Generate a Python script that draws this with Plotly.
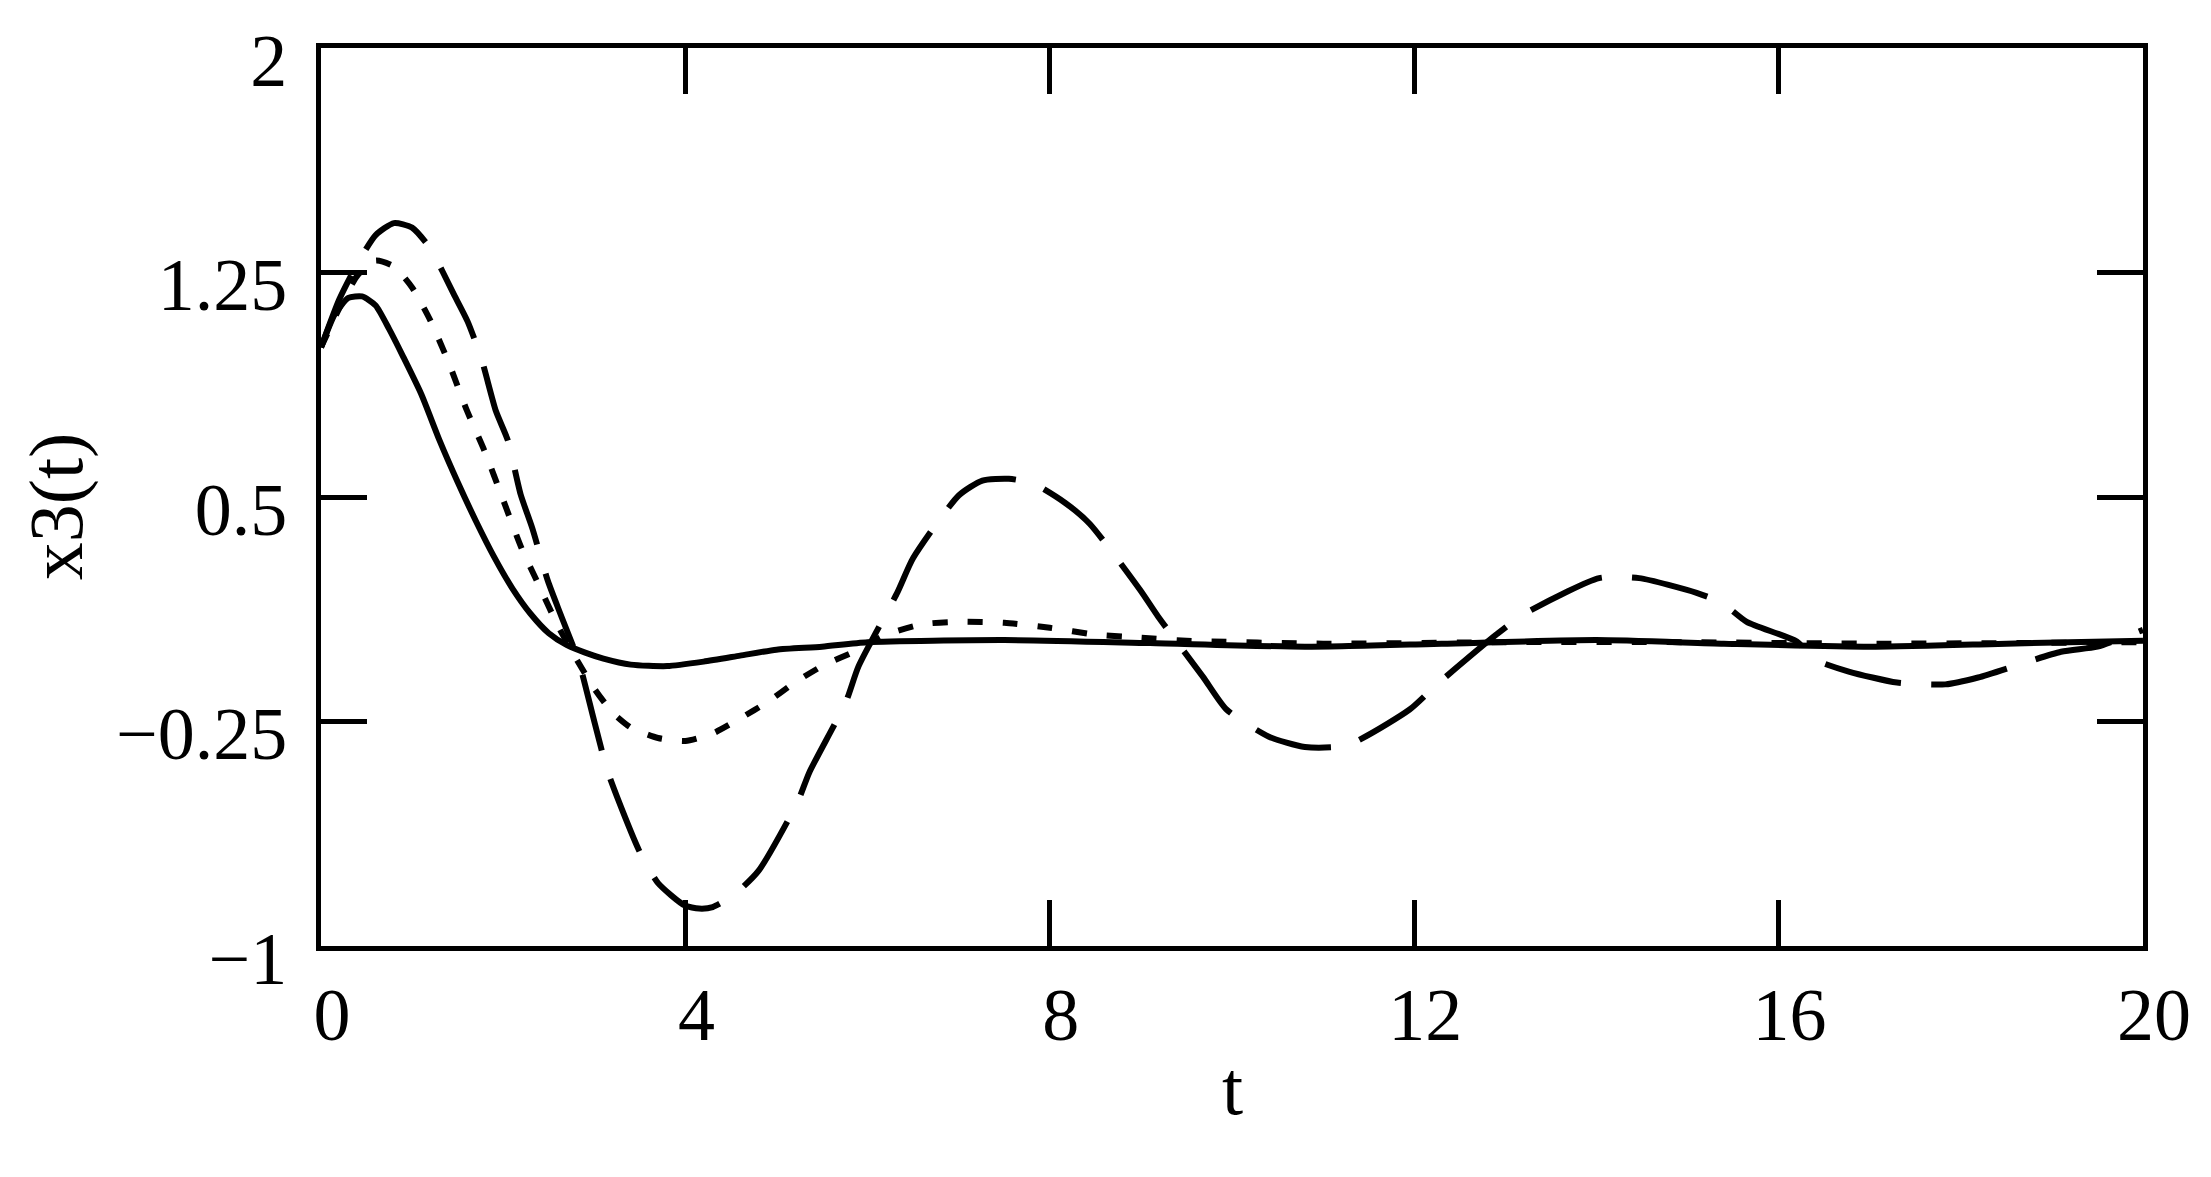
import plotly.graph_objects as go

# ---- data ----
t_solid = [0, 0.15, 0.3, 0.45, 0.6, 0.75, 0.9, 1.1, 1.3, 1.5, 1.7, 1.9, 2.1, 2.3, 2.5,
           2.7, 2.9, 3.1, 3.4, 3.8, 4.2, 4.6, 5.0, 5.5, 6.0, 7.5, 9.1, 10.8, 12.3, 14,
           15.4, 17, 18.5, 20]
x3_solid = [1.0, 1.11, 1.165, 1.17, 1.14, 1.06, 0.97, 0.844, 0.69, 0.55, 0.42, 0.30, 0.195,
            0.11, 0.045, 0.005, -0.02, -0.04, -0.06, -0.065, -0.05, -0.03, -0.01, 0.0, 0.015,
            0.022, 0.012, 0.0, 0.01, 0.022, 0.01, 0.0, 0.01, 0.02]

t_dotted = [0, 0.2, 0.4, 0.6, 0.8, 1.0, 1.2, 1.4, 1.6, 1.8, 2.0, 2.2, 2.4, 2.6, 2.8, 3.0,
            3.2, 3.4, 3.7, 4.0, 4.3, 4.6, 4.9, 5.2, 5.5, 5.9, 6.2, 6.6, 7.0, 7.5, 8.0, 8.5,
            9.0, 9.5, 11, 13, 15, 17, 20]
x3_dotted = [1.0, 1.13, 1.24, 1.29, 1.27, 1.2, 1.09, 0.95, 0.79, 0.65, 0.49, 0.33, 0.2, 0.07,
             -0.04, -0.14, -0.22, -0.27, -0.305, -0.315, -0.29, -0.24, -0.185, -0.12, -0.065,
             -0.01, 0.04, 0.075, 0.083, 0.08, 0.063, 0.04, 0.03, 0.02, 0.01, 0.015, 0.015,
             0.01, 0.015]

t_dashed = [0, 0.2, 0.4, 0.6, 0.8, 1.0, 1.2, 1.46, 1.61, 1.76, 1.92, 2.05, 2.19, 2.32, 2.49,
            2.64, 2.83, 3.0, 3.15, 3.49, 3.7, 3.99, 4.15, 4.3, 4.53, 4.8, 5.23, 5.36, 5.76,
            5.9, 6.33, 6.5, 7.0, 7.26, 7.55, 7.82, 8.17, 8.44, 8.99, 9.19, 9.68, 9.94, 10.4,
            10.8, 11.26, 11.95, 12.25, 12.9, 13.19, 14.03, 14.47, 15.1, 15.38, 15.65, 16.2,
            16.4, 16.77, 17.3, 17.83, 18.19, 19.1, 19.5, 20]
x3_dashed = [1.0, 1.16, 1.28, 1.375, 1.415, 1.40, 1.33, 1.176, 1.086, 0.963, 0.787, 0.69,
             0.51, 0.395, 0.22, 0.1, -0.05, -0.25, -0.42, -0.68, -0.79, -0.864, -0.875, -0.87,
             -0.83, -0.75, -0.52, -0.42, -0.186, -0.066, 0.183, 0.296, 0.505, 0.555, 0.561,
             0.545, 0.48, 0.41, 0.19, 0.1, -0.1, -0.21, -0.3, -0.335, -0.33, -0.21, -0.126,
             0.04, 0.106, 0.229, 0.229, 0.18, 0.146, 0.083, 0.017, -0.043, -0.083, -0.12,
             -0.126, -0.103, -0.017, 0.0, 0.056]

x_ticks = [0, 4, 8, 12, 16, 20]
x_ticktext = ["0", "4", "8", "12", "16", "20"]
y_ticks = [-1, -0.25, 0.5, 1.25, 2]
y_ticktext = ["\u22121", "\u22120.25", "0.5", "1.25", "2"]

FONT = "Liberation Serif, Times New Roman, serif"

fig = go.Figure()
fig.add_trace(go.Scatter(x=t_solid, y=x3_solid, mode="lines",
                         line=dict(color="black", width=6, shape="spline", smoothing=0.6)))
fig.add_trace(go.Scatter(x=t_dotted, y=x3_dotted, mode="lines",
                         line=dict(color="black", width=6, shape="spline", smoothing=0.6,
                                   dash="15px,20px")))
fig.add_trace(go.Scatter(x=t_dashed, y=x3_dashed, mode="lines",
                         line=dict(color="black", width=6, shape="spline", smoothing=0.6,
                                   dash="78px,30px")))

axis_common = dict(showgrid=False, zeroline=False, showline=True, linecolor="black",
                   linewidth=5, mirror="ticks", ticks="inside", ticklen=46, tickwidth=5,
                   tickcolor="black", tickfont=dict(family=FONT, size=74, color="black"))

fig.update_xaxes(range=[0, 20], tickvals=x_ticks, ticktext=x_ticktext,
                 ticklabelstandoff=0, ticklabelshift=11, **axis_common)
fig.update_yaxes(range=[-1, 2.0000001], tickvals=y_ticks, ticktext=y_ticktext,
                 ticklabelstandoff=14, ticklabelshift=12, **axis_common)

fig.add_annotation(text="t", xref="paper", yref="paper", x=0.5, y=-0.158,
                   xanchor="center", yanchor="middle", showarrow=False,
                   font=dict(family=FONT, size=76, color="black"))
fig.add_annotation(text="x3(t)", xref="paper", yref="paper", x=-0.1447, y=0.49,
                   xanchor="center", yanchor="middle", showarrow=False, textangle=-90,
                   font=dict(family=FONT, size=76, color="black"))

fig.update_layout(width=2195, height=1161, showlegend=False,
                  paper_bgcolor="white", plot_bgcolor="white",
                  margin=dict(l=313, r=58, t=39, b=223))

fig.write_html("out.html")
